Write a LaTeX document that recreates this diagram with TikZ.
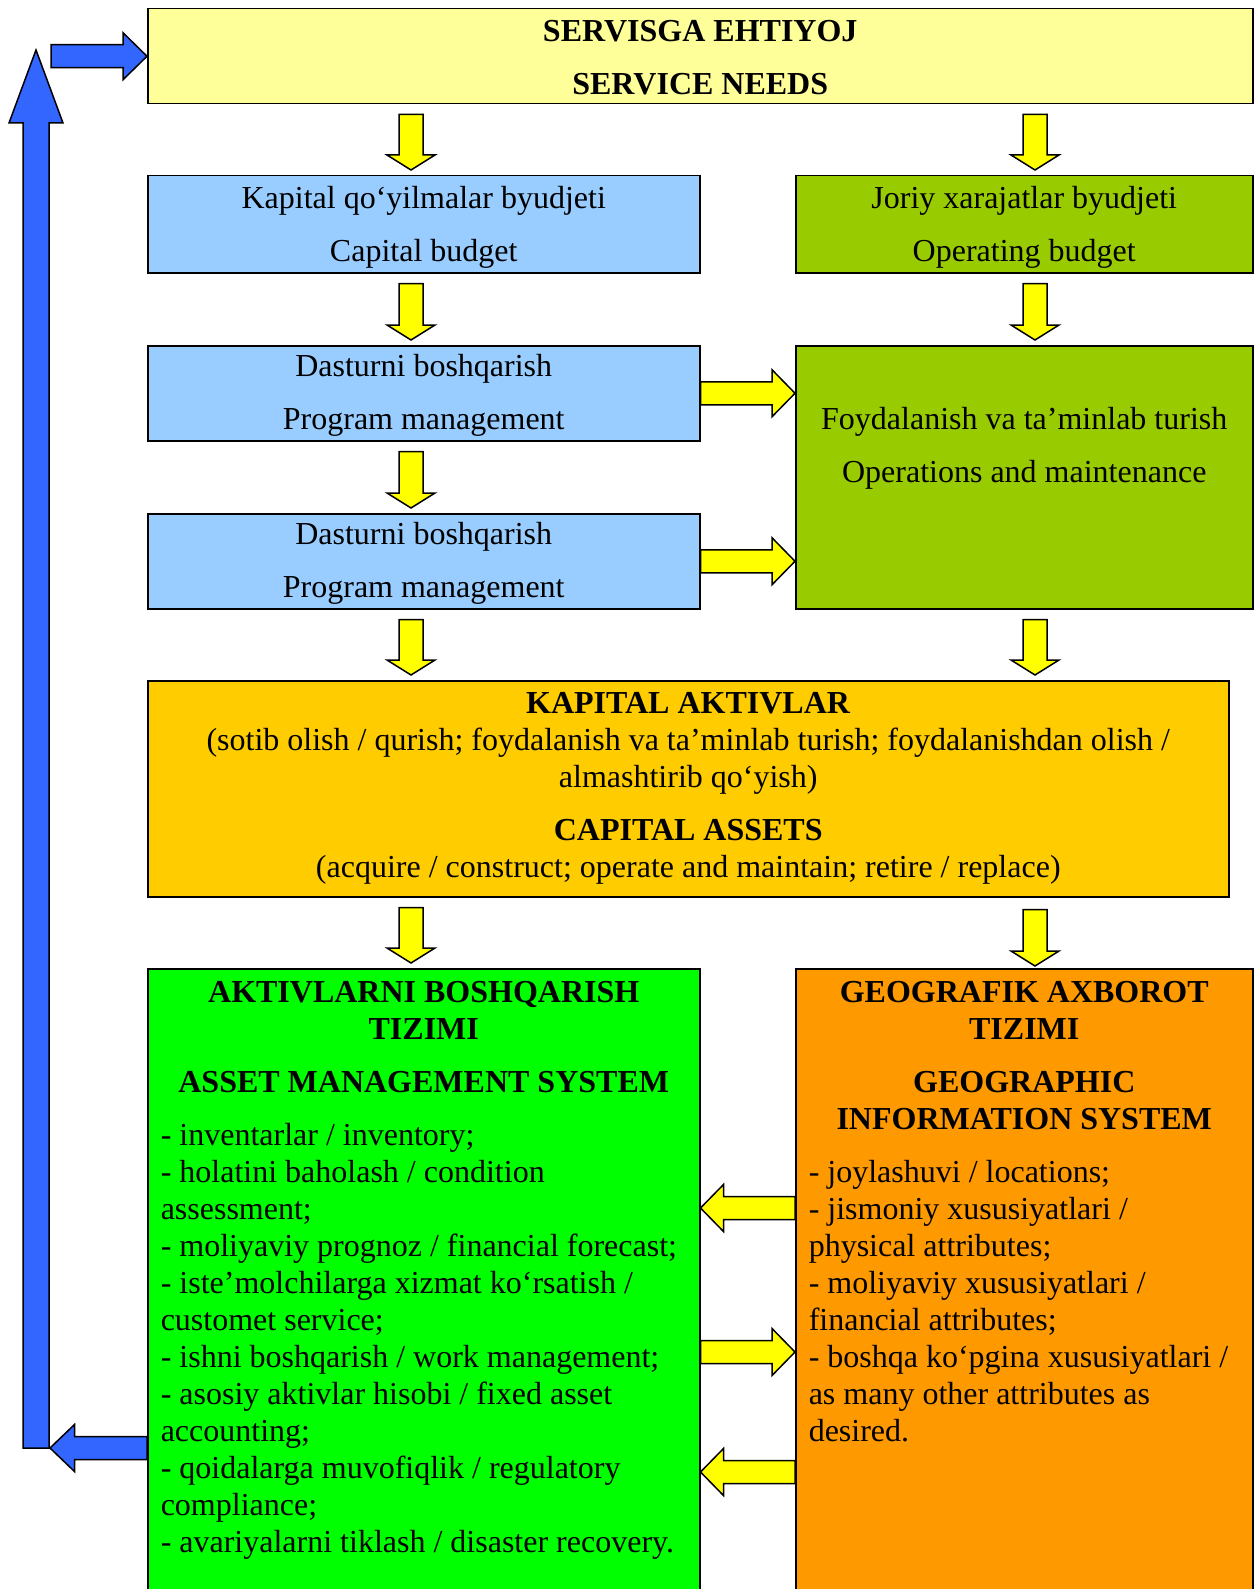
\documentclass[tikz,border=0pt]{standalone}
\usepackage{fontspec}
\setmainfont{Liberation Serif}
\usetikzlibrary{calc}

\definecolor{needyellow}{HTML}{FFFF99}
\definecolor{capblue}{HTML}{99CCFF}
\definecolor{opgreen}{HTML}{99CC00}
\definecolor{assetgold}{HTML}{FFCC00}
\definecolor{amsgreen}{HTML}{00FF00}
\definecolor{gisorange}{HTML}{FF9900}
\definecolor{arrowyellow}{HTML}{FFFF00}
\definecolor{loopblue}{HTML}{3366FF}

% half widths, head length and end gaps of a block arrow
\newcommand{\flowshaft}{6pt}
\newcommand{\flowhead}{12pt}
\newcommand{\flowtip}{7.5pt}
\newcommand{\flowstart}{0pt}
\newcommand{\flowend}{0pt}

\tikzset{
	flow shaft/.code={\def\flowshaft{#1}},
	flow head/.code={\def\flowhead{#1}},
	flow tip/.code={\def\flowtip{#1}},
	flow gap/.code 2 args={\def\flowstart{#1}\def\flowend{#2}},
	flow/.style={draw=black, line width=0.75pt, line join=miter}
}

% \flowarrow[style]{from}{to}: fat outlined arrow
\newcommand{\flowarrow}[3][]{%
	\draw[flow, #1]
		($(#2)!\flowstart!(#3)!\flowshaft!90:(#3)$)
		-- ($(#3)!{\flowend+\flowtip}!(#2)!\flowshaft!-90:(#2)$)
		-- ($(#3)!{\flowend+\flowtip}!(#2)!\flowhead!-90:(#2)$)
		-- ($(#3)!\flowend!(#2)$)
		-- ($(#3)!{\flowend+\flowtip}!(#2)!\flowhead!90:(#2)$)
		-- ($(#3)!{\flowend+\flowtip}!(#2)!\flowshaft!90:(#2)$)
		-- ($(#2)!\flowstart!(#3)!\flowshaft!-90:(#3)$)
		-- cycle;
}

\begin{document}
\begin{tikzpicture}[%
		x=0.5pt, y=-0.5pt,
		every node/.style={font=\fontsize{16pt}{18.5pt}\selectfont},
		box/.style={draw, line width=0.75pt, anchor=north west,
			inner xsep=6.5pt, inner ysep=0pt, align=center,
			% fixed word spaces, no hyphens
			execute at begin node={\spaceskip=4pt\xspaceskip=4pt\hyphenpenalty=10000\relax}},
		boxsize/.style n args={3}{text width=#1, text height=#2, text depth=#3},
		down/.style={fill=arrowyellow, flow shaft=6pt, flow head=12pt,
			flow tip=7.5pt, flow gap={5pt}{2.5pt}},
		side/.style={fill=arrowyellow, flow shaft=5.75pt, flow head=11.75pt,
			flow tip=11.5pt},
		loop/.style={fill=loopblue, flow shaft=5.75pt, flow head=11.75pt,
			flow tip=12.25pt}
	]

	\path[use as bounding box, clip] (0,0) rectangle (1259,1589);

	\node[box, fill=needyellow, boxsize={539.5pt}{16.5pt}{31pt}] (need) at (147,8) {%
		\textbf{SERVISGA EHTIYOJ}\\[8pt]
		\textbf{SERVICE NEEDS}
	};

	\node[box, fill=capblue, boxsize={263pt}{16.5pt}{32pt}] (capital) at (147,175) {%
		Kapital qo‘yilmalar byudjeti\\[8pt]
		Capital budget
	};
	\node[box, fill=opgreen, boxsize={215.5pt}{16.5pt}{32pt}] (operating) at (795,175) {%
		Joriy xarajatlar byudjeti\\[8pt]
		Operating budget
	};

	\node[box, fill=capblue, boxsize={263pt}{15.5pt}{32pt}] (prog1) at (147,345) {%
		Dasturni boshqarish\\[8pt]
		Program management
	};
	\node[box, fill=capblue, boxsize={263pt}{15.5pt}{32pt}] (prog2) at (147,513) {%
		Dasturni boshqarish\\[8pt]
		Program management
	};
	\node[box, fill=opgreen, boxsize={215.5pt}{42pt}{89.5pt}] (ops) at (795,345) {%
		Foydalanish va ta’minlab turish\\[8pt]
		Operations and maintenance
	};

	\node[box, fill=assetgold, boxsize={527.5pt}{16.25pt}{91.75pt}] (assets) at (147,680) {%
		\textbf{KAPITAL AKTIVLAR}\\
		(sotib olish / qurish; foydalanish va ta’minlab turish; foydalanishdan olish /\\
		almashtirib qo‘yish)\\[8pt]
		\textbf{CAPITAL ASSETS}\\
		(acquire / construct; operate and maintain; retire / replace)
	};

	\node[box, fill=amsgreen, align=left, boxsize={263pt}{17pt}{303pt}] (ams) at (147,968) {%
		{\centering\bfseries AKTIVLARNI BOSHQARISH\\
		TIZIMI\\[8pt]
		ASSET MANAGEMENT SYSTEM\par}
		\vspace{8pt}
		- inventarlar / inventory;\\
		- holatini baholash / condition\\
		assessment;\\
		- moliyaviy prognoz / financial forecast;\\
		- iste’molchilarga xizmat ko‘rsatish /\\
		customet service;\\
		- ishni boshqarish / work management;\\
		- asosiy aktivlar hisobi / fixed asset\\
		accounting;\\
		- qoidalarga muvofiqlik / regulatory\\
		compliance;\\
		- avariyalarni tiklash / disaster recovery.
	};
	\node[box, fill=gisorange, align=left, boxsize={215.5pt}{17pt}{303pt}] (gis) at (795,968) {%
		{\centering\bfseries GEOGRAFIK AXBOROT\\
		TIZIMI\\[8pt]
		GEOGRAPHIC\\
		INFORMATION SYSTEM\par}
		\vspace{8pt}
		- joylashuvi / locations;\\
		- jismoniy xususiyatlari /\\
		physical attributes;\\
		- moliyaviy xususiyatlari /\\
		financial attributes;\\
		- boshqa ko‘pgina xususiyatlari /\\
		as many other attributes as\\
		desired.
	};

	% columns and rows the arrows run along
	\coordinate (lcol) at (411,0);
	\coordinate (rcol) at (1035,0);
	\coordinate (rowa) at (0,1208);
	\coordinate (rowb) at (0,1352);
	\coordinate (rowc) at (0,1472);
	\coordinate (loopbot) at (36,1448);
	\coordinate (looptop) at (36,50);

	% yellow flow
	\flowarrow[down]{need.south -| lcol}{capital.north -| lcol}
	\flowarrow[down]{need.south -| rcol}{operating.north -| rcol}
	\flowarrow[down]{capital.south -| lcol}{prog1.north -| lcol}
	\flowarrow[down]{operating.south -| rcol}{ops.north -| rcol}
	\flowarrow[down]{prog1.south -| lcol}{prog2.north -| lcol}
	\flowarrow[down]{prog2.south -| lcol}{assets.north -| lcol}
	\flowarrow[down]{ops.south -| rcol}{assets.north -| rcol}
	\flowarrow[down]{assets.south -| lcol}{ams.north -| lcol}
	\flowarrow[down, flow gap={6pt}{1pt}]{assets.south -| rcol}{gis.north -| rcol}

	\flowarrow[side]{prog1.east}{prog1.east -| ops.west}
	\flowarrow[side]{prog2.east}{prog2.east -| ops.west}
	\flowarrow[side]{gis.west |- rowa}{ams.east |- rowa}
	\flowarrow[side]{ams.east |- rowb}{gis.west |- rowb}
	\flowarrow[side]{gis.west |- rowc}{ams.east |- rowc}

	% blue feedback loop
	\flowarrow[loop, flow gap={0pt}{7pt}]{ams.west |- loopbot}{loopbot}
	\flowarrow[loop, flow shaft=6.5pt, flow head=13.5pt, flow tip=36.5pt]{loopbot}{looptop}
	\flowarrow[loop, flow gap={7.5pt}{0pt}, flow tip=12pt]{looptop |- need.west}{need.west}
\end{tikzpicture}
\end{document}
